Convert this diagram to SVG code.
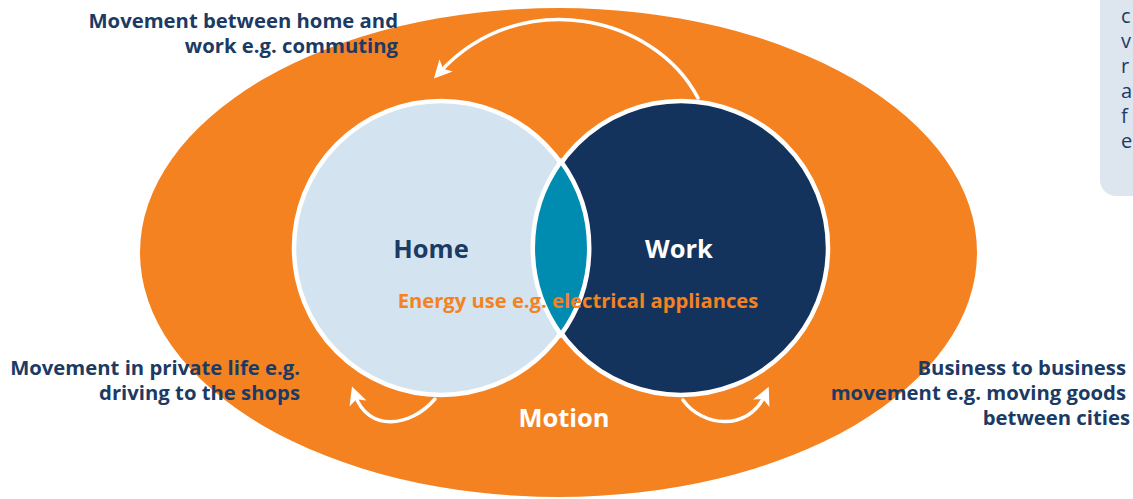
<svg xmlns="http://www.w3.org/2000/svg" width="1133" height="499" viewBox="0 0 1133 499">
<defs>
<style>
.lbl{font-family:"Open Sans","Liberation Sans",sans-serif;font-weight:bold;font-size:20.3px;fill:#1b3a64;text-anchor:end}
.side{font-family:"Open Sans","Liberation Sans",sans-serif;font-size:20px;fill:#1b3a64}
.big{font-family:"Open Sans","Liberation Sans",sans-serif;font-weight:bold;font-size:25.5px;text-anchor:middle}
.arr{fill:none;stroke:#fff;stroke-width:3.5;stroke-linecap:round}
</style>
<marker id="ah2" viewBox="0 0 12 12" refX="6" refY="6" markerWidth="18" markerHeight="18" orient="auto" markerUnits="userSpaceOnUse">
<path d="M0,0 L12,6 L0,12 L3,6 Z" fill="#fff"/>
</marker>
</defs>
<rect width="1133" height="499" fill="#fff"/>
<g id="sidebox">
<rect x="1100" y="-20" width="60" height="216" rx="16" fill="#dde5ee"/>
<text class="side" x="1121" y="23">c</text>
<text class="side" x="1121" y="48">v</text>
<text class="side" x="1121" y="73">r</text>
<text class="side" x="1121" y="98">a</text>
<text class="side" x="1121" y="123">f</text>
<text class="side" x="1121" y="148">e</text>
</g>
<g id="motion">
<ellipse cx="558.5" cy="252.5" rx="418.5" ry="244.5" fill="#f58220"/>
</g>
<g id="home">
<circle cx="441" cy="248" r="147" fill="#d3e4f0" stroke="#fff" stroke-width="4.5"/>
</g>
<g id="work">
<circle cx="681" cy="248" r="147" fill="#14335c" stroke="#fff" stroke-width="4.5"/>
</g>
<g id="overlap">
<path d="M561,161.4 A147,147 0 0 1 561,334.6 A147,147 0 0 1 561,161.4 Z" fill="#008bb0" stroke="#fff" stroke-width="4.5"/>
</g>
<g id="connectors">
<path class="arr" d="M698,98 C655,15 520,-15 440,72" marker-end="url(#ah2)"/>
<path class="arr" d="M435,399 C410,428 368,432 355,395" marker-end="url(#ah2)"/>
<path class="arr" d="M683,400 C702,427 748,432 765,395" marker-end="url(#ah2)"/>
</g>
<g id="labels">
<text class="big" x="431" y="258" fill="#1b3a64">Home</text>
<text class="big" x="679" y="258" fill="#fff">Work</text>
<text class="big" x="564" y="427" fill="#fff">Motion</text>
<text x="578" y="308" font-family="Open Sans, Liberation Sans, sans-serif" font-weight="bold" font-size="20.2" fill="#f58220" text-anchor="middle">Energy use e.g. electrical appliances</text>
<text class="lbl" x="398" y="28">Movement between home and</text>
<text class="lbl" x="398" y="53">work e.g. commuting</text>
<text class="lbl" x="300" y="375">Movement in private life e.g.</text>
<text class="lbl" x="300" y="400">driving to the shops</text>
<text class="lbl" x="1126" y="375">Business to business</text>
<text class="lbl" x="1126" y="400">movement e.g. moving goods</text>
<text class="lbl" x="1130" y="425">between cities</text>
</g>
</svg>
